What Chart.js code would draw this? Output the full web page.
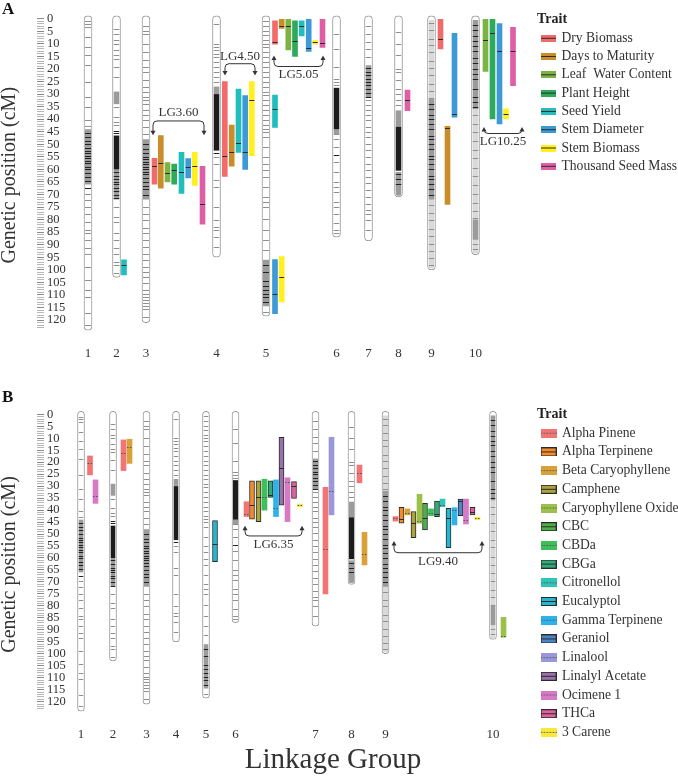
<!DOCTYPE html>
<html>
<head>
<meta charset="utf-8">
<script src="https://cdn.jsdelivr.net/npm/chart.js@4.4.1/dist/chart.umd.min.js"></script>
<style>
  html, body { margin: 0; padding: 0; background: #fff; }
  #wrapA { position: absolute; left: 0; top: 0; }
  #wrapB { position: absolute; left: 0; top: 378px; }
</style>
</head>
<body>
<div id="wrapA"><canvas id="chartA" width="678" height="372"></canvas></div>
<div id="wrapB"><canvas id="chartB" width="678" height="398"></canvas></div>
<script>
const SERIF = '"Liberation Serif", "Times New Roman", serif';
const INK = '#333';

// ---- linkage map, shared by both panels ----
const lgLabels = ['1', '2', '3', '4', '5', '6', '7', '8', '9', '10'];
const lgLength = [124, 103, 121, 95, 118.5, 87, 88.5, 71, 100, 94];
const cmLabels = [0, 5, 10, 15, 20, 25, 30, 35, 40, 45, 50, 55, 60, 65, 70, 75, 80, 85, 90, 95, 100, 105, 110, 115, 120];

// single markers (cM)
const lgMarkers = [
  [1, 2, 3.3, 7.3, 11.3, 14.6, 18.6, 25.2, 31.2, 35.2, 40.5, 42.8, 69.6, 72.3, 74.9, 77.6, 80.9, 84.2, 85.5, 88.2, 91.5, 93.5, 98.8, 104.1, 108.1, 110.7, 117.3, 122],
  [4, 6, 8.6, 9.9, 12.6, 14.6, 15.9, 19.2, 23.2, 35.2, 39.1, 41.1, 42.4, 75, 79, 80.9, 85.5, 88.2, 91.5, 93.5, 96.8, 98.1, 101.4],
  [2.7, 4.7, 6, 9.9, 13.3, 16.6, 19.3, 21.2, 24.5, 27.2, 29.2, 31.2, 32.5, 33.8, 36.5, 38.5, 40.4, 43.1, 45.7, 74.9, 77.6, 80.2, 83.5, 85.5, 88.2, 90.8, 93.5, 96.1, 98.8, 100.8, 102.8, 105.4, 108.1, 109.5, 110.7, 111.9, 113.1, 114.3, 115.5, 118.7],
  [2, 9.9, 11.3, 12.6, 13.9, 15.3, 17.3, 19.3, 21.2, 23.2, 25.2, 55, 57.7, 64.3, 67, 75, 80.2, 82.9, 84.2, 86.9, 90.8],
  [0.7, 2.7, 4.7, 6.6, 8.6, 9.9, 11.3, 13.3, 15.3, 17.3, 19.3, 21.2, 23.2, 25.2, 27.2, 29.2, 30.5, 32.5, 34.5, 36.5, 38.5, 40.4, 42.4, 43.8, 45.1, 47.1, 51.1, 55, 57.7, 60.3, 63, 67, 71, 72.9, 74.9, 79.6, 84.2, 88.2, 92.2, 116.7],
  [6, 11.9, 19.3, 23.9, 25.2, 26.5, 45.7, 47.7, 51.1, 57, 61, 65, 67, 69, 72.9, 74.9, 77.6, 81.5, 84.2, 85.5],
  [2.7, 6, 9.3, 11.9, 15.3, 32.5, 34.5, 36.5, 38.5, 40.4, 43.1, 45.1, 47.1, 49.7, 52.4, 55, 57.7, 60.3, 63, 65.6, 68.3, 70.9, 73.6, 76.2, 77.6, 80.2, 84.2],
  [5.3, 9.9, 14.6, 19.9, 21.2, 24.5, 27.9, 29.9, 32.5, 34.5],
  [1.8, 4.5, 7.9, 10.6, 13.2, 16.8, 19.5, 22.4, 25.9, 28.7, 31.4, 74.2, 77.5, 80.1, 83.6, 86.4, 89.8, 92.5, 95.3, 98.1],
  [38.5, 41.8, 45.2, 48.7, 52.3, 55.6, 59.4, 62.8, 66.1, 69.7, 73.2, 76.4, 79.5, 89.6, 91.8],
];
// markers inside dense clusters
const lgDarkMarkers = [
  [45.5, 47, 48.5, 50, 51.5, 52.5, 53.5, 54.5, 55.5, 56.5, 57.5, 59, 60, 61.5, 63, 64.5, 67.6],
  [44.5, 45.5, 61, 62.5, 64, 65, 66, 67.5, 68.5, 70, 71.5],
  [50, 52, 53.5, 55, 56, 57, 58, 59, 60, 61, 62, 63.5, 65, 66.5, 68, 70],
  [53.5],
  [98, 101, 104.5, 106.5, 108, 109.5, 111, 113],
  [54.4],
  [19.5, 21, 22.5, 24, 25, 26.5, 28, 29.5, 31],
  [62, 64, 66],
  [34, 36, 38.5, 40, 42, 44, 46.5, 48, 50, 52, 54.5, 56, 58, 60, 62.5, 64, 66, 68, 70],
  [2.5, 4.5, 7, 9, 11, 13, 15.5, 17.5, 20, 22, 24, 28, 31, 33, 35],
];
// marker clusters [start, end] by density
const lgBlackBlocks = [[], [[46.5, 60]], [], [[30, 52.5]], [], [[27.5, 44]], [], [[43, 60.5]], [], []];
const lgGreyBlocks = [[[44, 66]], [[29, 34], [60, 72]], [[48, 72]], [[27, 30]], [[96, 114.5]], [[44, 46]], [[18.5, 31.5]], [[36.5, 43], [61, 70.5]], [[32, 72]], [[0.5, 36], [80, 88]]];
const lgPaleBlocks = [[], [], [], [], [], [], [], [], [[0.5, 99.5]], [[36, 93.5]]];

// ---- panel A: agronomic QTL, [LG, start cM, end cM, peak cM] ----
const traitsA = ['Dry Biomass', 'Days to Maturity', 'Leaf  Water Content', 'Plant Height', 'Seed Yield', 'Stem Diameter', 'Stem Biomass', 'Thousand Seed Mass'];
const dryBiomass = [[3, 55.6, 65.9, 58.6], [4, 25, 62.8, 54.5], [5, 0.8, 10.1, 9.3], [9, 0, 12, 8.1]];
const daysToMaturity = [[3, 46.5, 67.5, 57.3], [4, 42.3, 58.7, 53.2], [5, 0, 3.8, 2.8], [9, 42.8, 73.9, 43.5]];
const leafWater = [[3, 57.3, 65, 61.4], [5, 0, 12.4, 2.8], [10, 0, 21, 8.3]];
const plantHeight = [[3, 57.9, 65.9, 60.4], [5, 0.8, 15, 9], [10, 0, 39.9, 5.8]];
const seedYield = [[2, 96, 102, 98.1], [3, 53.2, 69.6, 61], [4, 28, 53.2, 49.4], [5, 0.8, 6.8, 2.8], [5, 30.4, 43.3, 35.8]];
const stemDiameter = [[3, 55.7, 63.4, 59], [4, 30.6, 60, 52.9], [5, 0, 13, 11.8], [5, 95.9, 117.5, 109.5], [9, 5.8, 39.2, 37.9], [10, 1.9, 41.9, 13]];
const stemBiomass = [[3, 53.2, 66.4, 58.6], [4, 25, 54.5, 32.2], [5, 8.7, 10.1, 9.4], [5, 94.7, 112.8, 102.9], [10, 35.9, 39.9, 37.9]];
const seedMass = [[3, 58.8, 81.8, 73.9], [5, 0, 11.4, 9.8], [8, 28.4, 36.6, 32.3], [10, 3.4, 26.6, 13]];

// ---- panel B: chemotype QTL ----
const traitsB = ['Alpha Pinene', 'Alpha Terpinene', 'Beta Caryophyllene', 'Camphene', 'Caryophyllene Oxide', 'CBC', 'CBDa', 'CBGa', 'Citronellol', 'Eucalyptol', 'Gamma Terpinene', 'Geraniol', 'Linalool', 'Linalyl Acetate', 'Ocimene 1', 'THCa', '3 Carene'];
const alphaPinene = [[1, 17.4, 25.3, 20.5], [2, 10.7, 23.5, 16.3], [6, 36.5, 42.7, 41.8], [7, 30.5, 75, 56.2], [8, 21.2, 28.6, 24.4], [9, 42.7, 44.6, 43.4]];
const alphaTerpinene = [[6, 27.8, 43.8, 38], [9, 38.8, 45.5, 43.7]];
const betaCaryophyllene = [[2, 10.4, 20.5, 13.5], [8, 49.3, 62.9, 58.3], [9, 39.5, 42, 41.3]];
const camphene = [[6, 27.8, 44.8, 34.5], [9, 40.6, 51.5, 45.3]];
const caryophylleneOxide = [[9, 33.4, 45.5, 44.5], [10, 84.8, 93.1, 92.6]];
const cbc = [[9, 37.2, 48.3, 43.4]];
const cbda = [[6, 27.1, 40, 34.4], [9, 39.5, 42.3, 41.3]];
const cbga = [[6, 27.8, 34.7, 33.7], [9, 36.2, 42.7, 41.8]];
const citronellol = [[9, 35.4, 38.6, 37.9]];
const eucalyptol = [[5, 44.4, 61.5, 54.2], [9, 39.3, 55.7, 43.4]];
const gammaTerpinene = [[6, 27.4, 42.7, 39], [9, 39, 46.2, 40]];
const geraniol = [[9, 35.4, 42.3, 36.2]];
const linalool = [[7, 9.6, 42, 31.9]];
const linalylAcetate = [[6, 9.6, 37.9, 22.5]];
const ocimene = [[1, 27.4, 37.2, 34.1], [6, 26.5, 44.8, 28.1], [9, 35.4, 45.8, 44.1]];
const thca = [[6, 28.1, 35.1, 29.9], [9, 38.8, 42, 40.7]];
const carene = [[6, 37.5, 38.6, 37.9], [9, 43, 44, 43.4]];

// ---- layout (px) ----
const chromXA = [88, 116.5, 146, 216.5, 266, 336.5, 368.5, 398.5, 431.5, 475.5];
const chromXB = [81, 113, 146.5, 176, 206, 235.5, 315.5, 351.5, 385.5, 493];
const barXA = [
  [154.5, 224.8, 275, 440.5], [160.8, 231.7, 281.7, 447.5], [167.5, 288.3, 485.5], [174.2, 295, 492.5],
  [124, 181.5, 238.5, 301.7, 275], [188.2, 245.2, 308.7, 275, 454.5, 499.5], [194.8, 251.8, 315.2, 281.7, 506], [202.5, 322.5, 407.5, 513],
];
const barXB = [
  [90, 123.5, 246.5, 325.5, 359.5, 395.5], [252, 401.5], [129.5, 364.5, 407.5], [258.5, 413.5], [419.5, 503.5], [425],
  [264.5, 431], [270.5, 437], [442.5], [215, 448.5], [276, 454.5], [460.5], [331.5], [281.5], [95.5, 287.5, 466], [294, 472.5], [300, 477.5],
];
const bracketsA = [
  { text: 'LG3.60', from: 153, to: 204, at: 40.7, tip: 46.4, label: 37.5 },
  { text: 'LG4.50', from: 225, to: 255, at: 17.9, tip: 22.6, label: 15 },
  { text: 'LG5.05', from: 274, to: 323, at: 19, tip: 14.6, label: 22.2 },
  { text: 'LG10.25', from: 484, to: 522, at: 45.7, tip: 43.1, label: 48.8 },
];
const bracketsB = [
  { text: 'LG6.35', from: 245, to: 302, at: 50.8, tip: 46.5, label: 54.6 },
  { text: 'LG9.40', from: 394, to: 482, at: 57.8, tip: 52.9, label: 61.3 },
];
const colorsA = ['#f26b6b', '#c98d2a', '#7cb342', '#2eaa5c', '#22bdbd', '#3d9ad6', '#fff01e', '#df5ea6'];
const colorsB = ['#f27575', '#f28c2a', '#d9a13a', '#aba33e', '#9cc14a', '#4caf47', '#3dbf5c', '#2fab7a', '#2ec4b6', '#23b8d2', '#2eb2ea', '#4a86c8', '#9a98da', '#9a72aa', '#d67ac8', '#e0609e', '#f7e83a'];
const outlinedB = traitsB.map((t, i) => i % 2 === 1);

function swatch(color, w, h, outlined, dotted) {
  const c = document.createElement('canvas');
  c.width = w; c.height = h;
  const g = c.getContext('2d');
  g.fillStyle = color;
  g.fillRect(0, 0, w, h);
  if (outlined) { g.strokeStyle = '#2b2b2b'; g.strokeRect(0.5, 0.5, w - 1, h - 1); }
  g.strokeStyle = dotted ? '#555' : '#2b2b2b';
  g.setLineDash(dotted ? [1.5, 1.5] : []);
  g.beginPath(); g.moveTo(0, Math.floor(h / 2) + 0.5); g.lineTo(w, Math.floor(h / 2) + 0.5); g.stroke();
  return c;
}

function buildDatasets(p) {
  const chrom = {
    label: 'chromosomes', isChrom: true,
    data: lgLength.map((len, i) => ({ x: p.chromX[i], y: [-1.2, len] })),
    backgroundColor: '#fff', borderColor: '#9a9a9a', borderWidth: 1, borderSkipped: false,
    borderRadius: p.chromWidth / 2, barThickness: p.chromWidth, stack: 'map',
  };
  const qtl = p.traits.map((name, t) => ({
    label: name,
    data: p.series[t].map((q, i) => ({ x: p.barX[t][i], y: [q[1], q[2]], peak: q[3] })),
    backgroundColor: p.colors[t],
    borderColor: '#2b2b2b',
    borderWidth: p.outlined[t] ? 1 : 0,
    borderSkipped: false,
    barThickness: 5,
    stack: 'map',
    dotted: p.dotted[t],
    swatch: swatch(p.colors[t], p.swatchW, p.swatchH, p.outlined[t], p.dotted[t]),
  }));
  return [chrom, ...qtl];
}

function mapPlugin(p) {
  return {
    id: 'linkageMap' + p.letter,
    afterLayout(chart) {
      // x values are page pixels: pin the x scale onto the chart area
      const x = chart.scales.x;
      x.min = chart.chartArea.left;
      x.max = chart.chartArea.right;
      x.configure();
    },
    afterDatasetsDraw(chart) {
      const { ctx, scales: { x, y } } = chart;
      // chromosome markers
      chart.getDatasetMeta(0).data.forEach((el, i) => {
        const w = el.width - 2;
        const left = el.x - w / 2;
        const top = Math.min(el.y, el.base), bot = Math.max(el.y, el.base);
        ctx.save();
        ctx.beginPath();
        ctx.roundRect(left, top + 1, w, bot - top - 2, w / 2);
        ctx.clip();
        const band = (blocks, color) => {
          ctx.fillStyle = color;
          blocks[i].forEach(([a, b]) => {
            const ya = y.getPixelForValue(a), yb = y.getPixelForValue(b);
            ctx.fillRect(left, ya, w, yb - ya);
          });
        };
        band(lgPaleBlocks, '#d9d9d9');
        band(lgGreyBlocks, '#9b9b9b');
        band(lgBlackBlocks, '#1c1c1c');
        const lines = (list, color) => {
          ctx.strokeStyle = color;
          ctx.lineWidth = 1;
          ctx.beginPath();
          list[i].forEach((v) => {
            const py = Math.round(y.getPixelForValue(v)) + 0.5;
            ctx.moveTo(left, py);
            ctx.lineTo(left + w, py);
          });
          ctx.stroke();
        };
        lines(lgMarkers, '#8f8f8f');
        lines(lgDarkMarkers, '#222');
        ctx.restore();
      });

      // QTL peaks
      chart.data.datasets.forEach((ds, d) => {
        if (ds.isChrom) return;
        ctx.save();
        ctx.strokeStyle = ds.dotted ? '#555' : '#2a2a2a';
        ctx.setLineDash(ds.dotted ? [1.5, 1.5] : []);
        ctx.lineWidth = 1;
        chart.getDatasetMeta(d).data.forEach((el, j) => {
          const py = Math.round(y.getPixelForValue(ds.data[j].peak)) + 0.5;
          ctx.beginPath();
          ctx.moveTo(el.x - el.width / 2, py);
          ctx.lineTo(el.x + el.width / 2, py);
          ctx.stroke();
        });
        ctx.restore();
      });

      // cluster brackets
      p.brackets.forEach((b) => {
        const x0 = x.getPixelForValue(b.from), x1 = x.getPixelForValue(b.to);
        const yl = y.getPixelForValue(b.at), yt = y.getPixelForValue(b.tip);
        const dir = Math.sign(yt - yl);
        const r = 4;
        ctx.save();
        ctx.strokeStyle = '#333';
        ctx.fillStyle = '#333';
        ctx.lineWidth = 1;
        ctx.beginPath();
        ctx.moveTo(x0, yt - dir * 3);
        ctx.lineTo(x0, yl + dir * r);
        ctx.quadraticCurveTo(x0, yl, x0 + r, yl);
        ctx.lineTo(x1 - r, yl);
        ctx.quadraticCurveTo(x1, yl, x1, yl + dir * r);
        ctx.lineTo(x1, yt - dir * 3);
        ctx.stroke();
        [x0, x1].forEach((ax) => {
          ctx.beginPath();
          ctx.moveTo(ax, yt);
          ctx.lineTo(ax - 2.5, yt - dir * 4.5);
          ctx.lineTo(ax + 2.5, yt - dir * 4.5);
          ctx.closePath();
          ctx.fill();
        });
        ctx.font = `13px ${SERIF}`;
        ctx.textAlign = 'center';
        ctx.textBaseline = 'middle';
        ctx.fillText(b.text, (x0 + x1) / 2, y.getPixelForValue(b.label));
        ctx.restore();
      });
    },
    afterDraw(chart) {
      const ctx = chart.ctx;
      ctx.save();
      ctx.fillStyle = '#111';
      ctx.textAlign = 'left';
      ctx.textBaseline = 'alphabetic';
      ctx.font = `bold 17px ${SERIF}`;
      ctx.fillText(p.letter, 2, p.letterY);
      if (p.xTitle) {
        ctx.fillStyle = INK;
        ctx.textAlign = 'center';
        ctx.font = `29px ${SERIF}`;
        ctx.fillText(p.xTitle, 333, p.xTitleY);
      }
      ctx.restore();
    },
  };
}

const rulerTicks = Array.from({ length: 124 }, (_, i) => i);

function makeChart(id, p) {
  return new Chart(document.getElementById(id), {
    type: 'bar',
    data: { datasets: buildDatasets(p) },
    options: {
      responsive: false,
      animation: false,
      devicePixelRatio: 1,
      events: [],
      layout: { padding: { top: p.padTop, right: 0, bottom: 0, left: 0 } },
      scales: {
        x: {
          type: 'linear', min: 0, max: 678, offset: false,
          afterFit: (s) => { s.height = p.xAxisHeight; },
          afterBuildTicks: (s) => { s.ticks = p.chromX.map((v) => ({ value: v })); },
          ticks: { autoSkip: false, maxRotation: 0, padding: p.xTickPad, color: INK, font: { family: SERIF, size: 13 }, callback: (v, i) => lgLabels[i] },
          grid: { display: false, drawTicks: false },
          border: { display: false },
        },
        y: {
          type: 'linear', reverse: true, min: p.yMin, max: p.yMax, stacked: false,
          afterFit: (s) => { s.width = 44; },
          afterBuildTicks: (s) => { s.ticks = rulerTicks.map((v) => ({ value: v })); },
          ticks: { mirror: true, padding: 3, autoSkip: false, color: INK, font: { family: SERIF, size: 12.5 }, callback: (v) => (cmLabels.includes(v) ? String(v) : '') },
          grid: { drawOnChartArea: false, drawTicks: true, tickLength: 7, tickColor: (c) => (c.tick && c.tick.value % 5 === 0 ? '#8a8a8a' : '#b8b8b8') },
          border: { display: false },
          title: { display: true, text: 'Genetic position (cM)', color: INK, font: { family: SERIF, size: 20, lineHeight: 1 }, padding: 0 },
        },
      },
      plugins: {
        tooltip: { enabled: false },
        legend: {
          position: 'right', align: 'start', maxWidth: 141,
          title: { display: true, text: 'Trait', position: 'start', color: '#222', font: { family: SERIF, size: 14, weight: 'bold', lineHeight: 1 }, padding: p.legendTitlePad },
          labels: {
            usePointStyle: true, pointStyleWidth: 13, padding: p.legendPad, color: INK,
            font: { family: SERIF, size: 13.6 },
            generateLabels: (chart) => chart.data.datasets
              .map((ds, i) => (ds.isChrom ? null : { text: ds.label, pointStyle: ds.swatch, fillStyle: ds.backgroundColor, strokeStyle: 'rgba(0,0,0,0)', lineWidth: 0, hidden: false, datasetIndex: i, fontColor: INK }))
              .filter(Boolean),
          },
        },
      },
    },
    plugins: [mapPlugin(p)],
  });
}

makeChart('chartA', {
  letter: 'A', letterY: 14, xTitle: null,
  padTop: 10, xAxisHeight: 32, xTickPad: 6.2,
  yMin: -3.301, yMax: 127.95,
  chromX: chromXA, chromWidth: 8,
  traits: traitsA,
  series: [dryBiomass, daysToMaturity, leafWater, plantHeight, seedYield, stemDiameter, stemBiomass, seedMass],
  barX: barXA, colors: colorsA,
  outlined: traitsA.map(() => false), dotted: traitsA.map(() => false),
  swatchW: 15, swatchH: 7,
  brackets: bracketsA,
  legendPad: 4.7, legendTitlePad: { top: 2, bottom: 0.7 },
});

makeChart('chartB', {
  letter: 'B', letterY: 24, xTitle: 'Linkage Group', xTitleY: 390,
  padTop: 28, xAxisHeight: 53, xTickPad: 4,
  yMin: -3.466, yMax: 128.9,
  chromX: chromXB, chromWidth: 7,
  traits: traitsB,
  series: [alphaPinene, alphaTerpinene, betaCaryophyllene, camphene, caryophylleneOxide, cbc, cbda, cbga, citronellol, eucalyptol, gammaTerpinene, geraniol, linalool, linalylAcetate, ocimene, thca, carene],
  barX: barXB, colors: colorsB,
  outlined: outlinedB, dotted: outlinedB.map((o) => !o),
  swatchW: 16, swatchH: 9,
  brackets: bracketsB,
  legendPad: 5.1, legendTitlePad: { top: 1, bottom: 0.3 },
});
</script>
</body>
</html>
